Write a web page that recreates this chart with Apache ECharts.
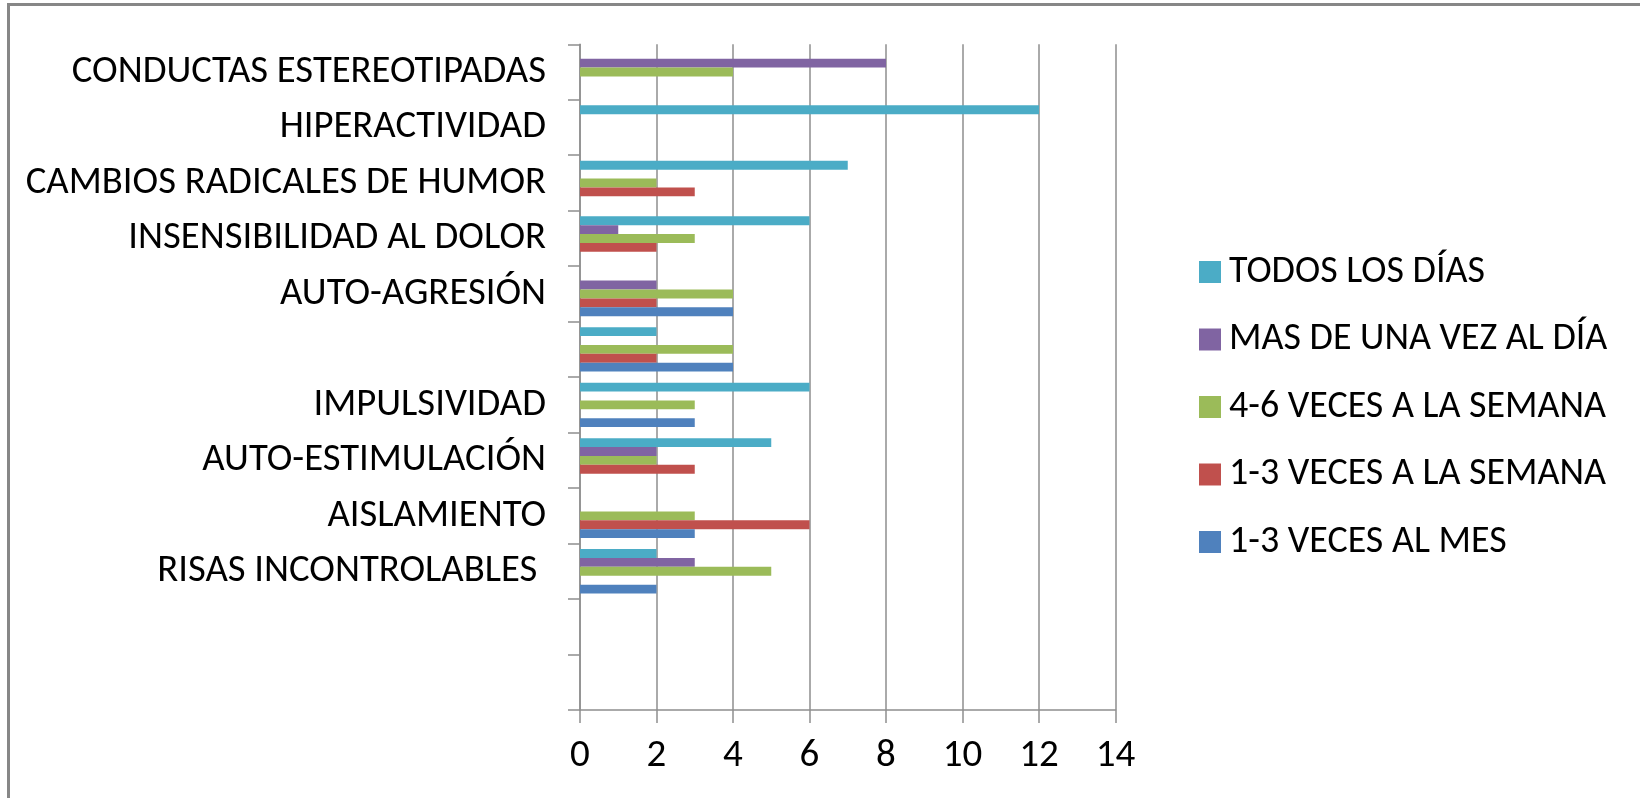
<!DOCTYPE html>
<html>
<head>
<meta charset="utf-8">
<script src="https://cdn.jsdelivr.net/npm/echarts@6/dist/echarts.min.js"></script>
<style>
html,body{margin:0;padding:0;background:#fff;}
#chart{width:1640px;height:798px;}
</style>
</head>
<body>
<div id="chart"></div>
<script>
// Categories listed bottom -> top (blank slots kept as distinct blank names)
const categories = [' ', '  ', 'RISAS INCONTROLABLES ', 'AISLAMIENTO', 'AUTO-ESTIMULACIÓN', 'IMPULSIVIDAD', '   ', 'AUTO-AGRESIÓN', 'INSENSIBILIDAD AL DOLOR', 'CAMBIOS RADICALES DE HUMOR', 'HIPERACTIVIDAD', 'CONDUCTAS ESTEREOTIPADAS'];
const seriesNames = ['TODOS LOS DÍAS', 'MAS DE UNA VEZ AL DÍA', '4-6 VECES A LA SEMANA', '1-3 VECES A LA SEMANA', '1-3 VECES AL MES'];
const todosLosDias    = [0, 0, 2, 0, 5, 6, 2, 0, 6, 7, 12, 0];
const masDeUnaVez     = [0, 0, 3, 0, 2, 0, 0, 2, 1, 0, 0, 8];
const cuatroSeisSem   = [0, 0, 5, 3, 2, 3, 4, 4, 3, 2, 0, 4];
const unoTresSemana   = [0, 0, 0, 6, 3, 0, 2, 2, 2, 3, 0, 0];
const unoTresMes      = [0, 0, 2, 3, 0, 3, 4, 4, 0, 0, 0, 0];
const xTicks = [0, 2, 4, 6, 8, 10, 12, 14];
const colors = ['#4BACC6', '#8064A2', '#9BBB59', '#C0504D', '#4F81BD'];

const values = [todosLosDias, masDeUnaVez, cuatroSeisSem, unoTresSemana, unoTresMes];
const FONT = 'Carlito, Lato, sans-serif';
const GRAY = '#8e8e8e';

const chart = echarts.init(document.getElementById('chart'), null, {renderer: 'canvas'});
chart.setOption({
  animation: false,
  backgroundColor: '#fff',
  color: colors,
  textStyle: {fontFamily: FONT},
  graphic: [{
    type: 'rect',
    shape: {x: 8.5, y: 4.5, width: 1700, height: 900},
    style: {fill: 'none', stroke: '#878787', lineWidth: 3},
    silent: true
  }],
  grid: {left: 580, right: 524.5, top: 44.3, bottom: 88, containLabel: false},
  legend: {
    orient: 'vertical',
    left: 1194,
    top: 247,
    icon: 'rect',
    itemWidth: 22,
    itemHeight: 22,
    itemGap: 27.5,
    textStyle: {fontFamily: FONT, fontSize: 38, color: '#000', lineHeight: 40, padding: [0, 0, 0, 3]},
    data: seriesNames
  },
  xAxis: {
    type: 'value',
    min: xTicks[0],
    max: xTicks[xTicks.length - 1],
    interval: 2,
    axisLine: {show: true, lineStyle: {color: GRAY, width: 1.5}},
    axisTick: {show: true, length: 13, lineStyle: {color: GRAY, width: 1.5}},
    splitLine: {show: true, lineStyle: {color: GRAY, width: 1.5}},
    axisLabel: {fontFamily: FONT, fontSize: 39, color: '#000', margin: 27}
  },
  yAxis: {
    type: 'category',
    data: categories,
    axisLine: {show: true, lineStyle: {color: GRAY, width: 1.5}},
    axisTick: {show: true, length: 12, lineStyle: {color: GRAY, width: 1.5}},
    splitLine: {show: false},
    axisLabel: {fontFamily: FONT, fontSize: 38.7, color: '#000', margin: 34, interval: 0}
  },
  series: seriesNames.map((name, i) => ({
    name: name,
    type: 'bar',
    data: values[i],
    barGap: '0%',
    barCategoryGap: '20%',
    itemStyle: {color: colors[i]}
  }))
});
</script>
</body>
</html>
